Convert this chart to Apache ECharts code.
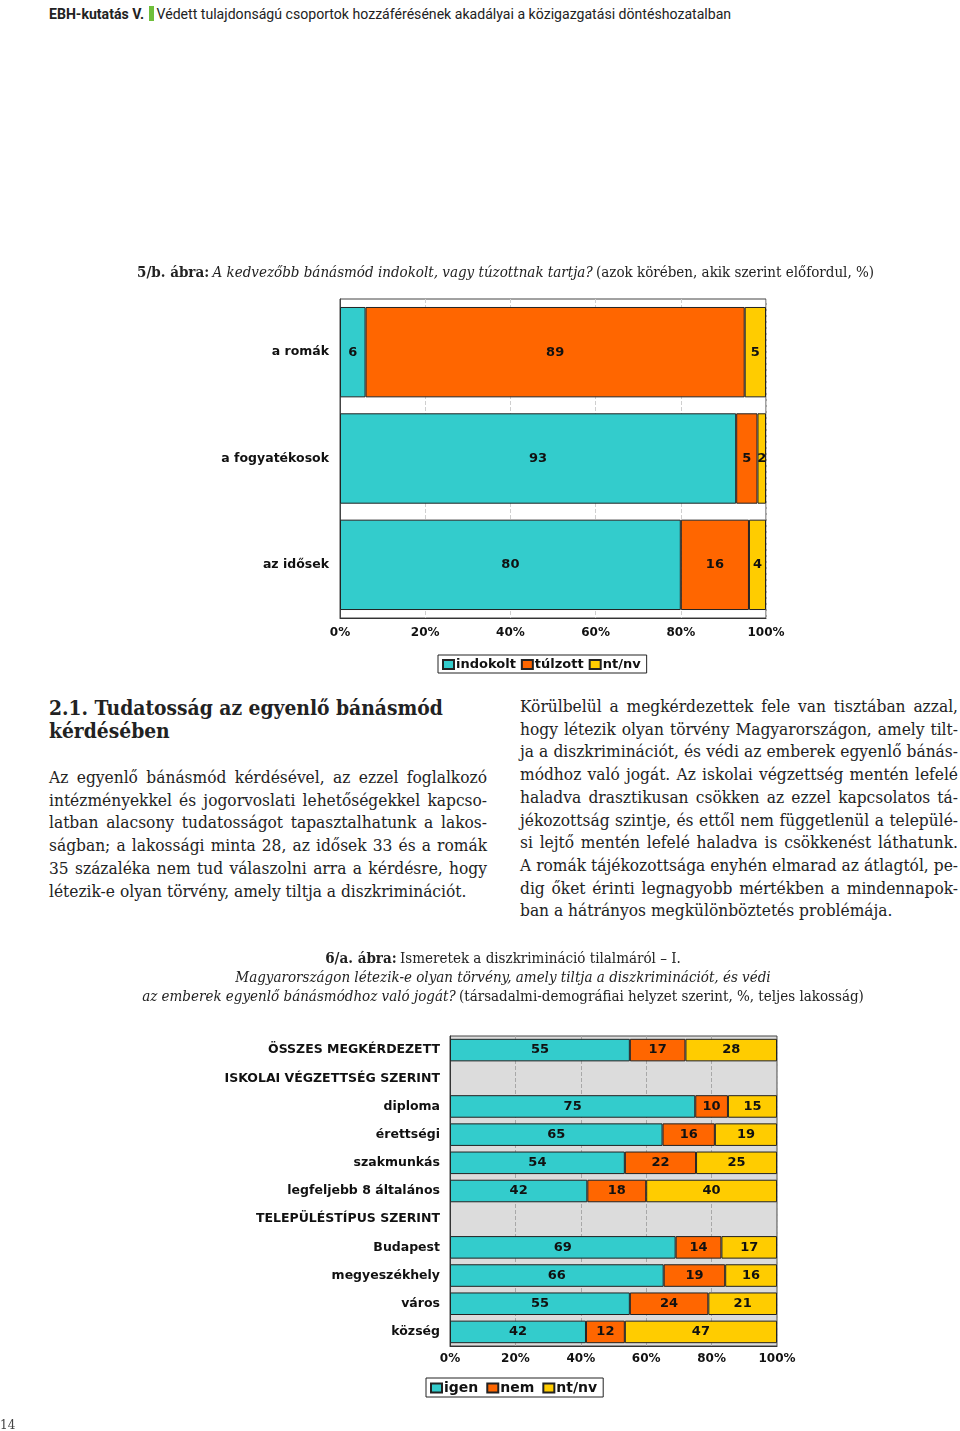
<!DOCTYPE html>
<html><head><meta charset="utf-8">
<script src="https://cdn.jsdelivr.net/npm/echarts@6/dist/echarts.min.js"></script>
<style>
html,body{margin:0;padding:0;background:#fff;}
body{width:960px;height:1431px;position:relative;overflow:hidden;}
.hdr{position:absolute;left:49px;top:5px;font-family:"Liberation Sans Narrow","Roboto",sans-serif;font-size:14.1px;color:#222;white-space:nowrap;line-height:18px;}
.gbar{display:inline-block;width:5px;height:15px;background:#6fbf3a;vertical-align:-2px;margin:0 3px 0 1px;}
.col{position:absolute;font-family:"DejaVu Serif Condensed","DejaVu Serif",serif;font-size:17.2px;line-height:22.7px;color:#222;}
.col div{text-align:justify;text-align-last:justify;white-space:nowrap;}
.col div.last{text-align:left;text-align-last:left;}
.h2{position:absolute;left:49px;top:696px;font-family:"DejaVu Serif Condensed","DejaVu Serif",serif;font-weight:bold;font-size:20.8px;line-height:23px;color:#222;}
.pg{position:absolute;left:0;top:1418px;font-family:"DejaVu Serif",serif;font-size:12px;color:#444;}
#c1{position:absolute;left:0;top:240px;width:960px;height:450px;}
#c2{position:absolute;left:0;top:940px;width:960px;height:480px;}
</style></head>
<body>
<div class="hdr"><b>EBH-kutatás V.</b> <span class="gbar"></span>Védett tulajdonságú csoportok hozzáférésének akadályai a közigazgatási döntéshozatalban</div>
<div id="c1"></div>
<div class="h2">2.1. Tudatosság az egyenlő bánásmód<br>kérdésében</div>
<div class="col" style="left:49px;top:766px;width:438px;">
<div>Az egyenlő bánásmód kérdésével, az ezzel foglalkozó</div>
<div>intézményekkel és jogorvoslati lehetőségekkel kapcso-</div>
<div>latban alacsony tudatosságot tapasztalhatunk a lakos-</div>
<div>ságban; a lakossági minta 28, az idősek 33 és a romák</div>
<div>35 százaléka nem tud válaszolni arra a kérdésre, hogy</div>
<div class="last">létezik-e olyan törvény, amely tiltja a diszkriminációt.</div>
</div>
<div class="col" style="left:520px;top:695px;width:438px;">
<div>Körülbelül a megkérdezettek fele van tisztában azzal,</div>
<div>hogy létezik olyan törvény Magyarországon, amely tilt-</div>
<div>ja a diszkriminációt, és védi az emberek egyenlő bánás-</div>
<div>módhoz való jogát. Az iskolai végzettség mentén lefelé</div>
<div>haladva drasztikusan csökken az ezzel kapcsolatos tá-</div>
<div>jékozottság szintje, és ettől nem függetlenül a települé-</div>
<div>si lejtő mentén lefelé haladva is csökkenést láthatunk.</div>
<div>A romák tájékozottsága enyhén elmarad az átlagtól, pe-</div>
<div>dig őket érinti legnagyobb mértékben a mindennapok-</div>
<div class="last">ban a hátrányos megkülönböztetés problémája.</div>
</div>
<div id="c2"></div>
<div class="pg">14</div>
<script>
// ---- data: chart 5/b ----
const cats1 = ['a romák', 'a fogyatékosok', 'az idősek'];
const indokolt = [6, 93, 80];
const tulzott = [89, 5, 16];
const ntnv1 = [5, 2, 4];
// ---- data: chart 6/a ----
const cats2 = ['ÖSSZES MEGKÉRDEZETT', 'ISKOLAI VÉGZETTSÉG SZERINT', 'diploma', 'érettségi', 'szakmunkás', 'legfeljebb 8 általános', 'TELEPÜLÉSTÍPUS SZERINT', 'Budapest', 'megyeszékhely', 'város', 'község'];
const igen = [55, null, 75, 65, 54, 42, null, 69, 66, 55, 42];
const nem = [17, null, 10, 16, 22, 18, null, 14, 19, 24, 12];
const ntnv2 = [28, null, 15, 19, 25, 40, null, 17, 16, 21, 47];
const tickLabels = ['0%', '20%', '40%', '60%', '80%', '100%'];

const SANS = '"DejaVu Sans", Verdana, sans-serif';
const SERIF = '"DejaVu Serif Condensed", "DejaVu Serif", serif';
const COLORS = ['#33cccc', '#ff6600', '#ffcc00'];

function pct(arrs) {
  // 100% stacked: normalise each row, keep raw value for label
  return arrs.map((a) => a.map((v, i) => {
    if (v == null) return { value: null, raw: null };
    const s = arrs.reduce((t, b) => t + (b[i] || 0), 0);
    return { value: v / s * 100, raw: v };
  }));
}

function mkSeries(names, arrs, gap) {
  const norm = pct(arrs);
  return names.map((n, k) => ({
    name: n, type: 'bar', stack: 'all', barCategoryGap: gap,
    data: norm[k],
    itemStyle: { color: COLORS[k], borderColor: '#222', borderWidth: 1 },
    label: { show: true, position: 'inside', fontFamily: SANS, fontWeight: 'bold', fontSize: 13, color: '#111',
      formatter: (p) => p.data.raw == null ? '' : String(p.data.raw) },
    emphasis: { disabled: true }
  }));
}

function xAx(splitColor, margin) {
  return {
    type: 'value', min: 0, max: 100, interval: 20,
    axisLabel: { formatter: (v) => tickLabels[Math.round(v / 20)], fontFamily: SANS, fontWeight: 'bold', fontSize: 12, color: '#111', margin: margin },
    axisLine: { show: true, lineStyle: { color: '#333' } },
    axisTick: { show: false },
    splitLine: { show: true, lineStyle: { type: 'dashed', color: splitColor } }
  };
}

function legend(left, top, fs, gap) {
  return {
    left: left, top: top, orient: 'horizontal', icon: 'rect', itemWidth: 11, itemHeight: 9, itemGap: gap,
    borderColor: '#222', borderWidth: 1, padding: [3, 6, 2, 4], selectedMode: false,
    textStyle: { fontFamily: SANS, fontWeight: 'bold', fontSize: fs, color: '#111', padding: [0, 0, 0, -3] }
  };
}

const c1 = echarts.init(document.getElementById('c1'), null, { renderer: 'canvas' });
c1.setOption({
  animation: false,
  graphic: [{
    type: 'text', left: 137, top: 26,
    style: {
      text: '{b|5/b. ábra:} {i|A kedvezőbb bánásmód indokolt, vagy túzottnak tartja?} {n|(azok körében, akik szerint előfordul, %)}',
      rich: {
        b: { fontFamily: SERIF, fontWeight: 'bold', fontSize: 15, fill: '#222' },
        i: { fontFamily: SERIF, fontStyle: 'italic', fontSize: 15, fill: '#222' },
        n: { fontFamily: SERIF, fontSize: 15, fill: '#222' }
      }
    }
  }],
  grid: { left: 340, width: 426, top: 59, height: 319, show: true, borderColor: '#444', borderWidth: 1, backgroundColor: '#fff' },
  legend: Object.assign(legend(438, 415, 13, 5), { data: ['indokolt', 'túlzott', 'nt/nv'] }),
  xAxis: xAx('#cfcfcf', 9),
  yAxis: {
    type: 'category', data: cats1, inverse: true,
    axisLine: { show: true, lineStyle: { color: '#444' } }, axisTick: { show: false },
    axisLabel: { fontFamily: SANS, fontWeight: 'bold', fontSize: 12.5, color: '#111', margin: 11 }
  },
  series: mkSeries(['indokolt', 'túlzott', 'nt/nv'], [indokolt, tulzott, ntnv1], '15%')
});

const c2 = echarts.init(document.getElementById('c2'), null, { renderer: 'canvas' });
c2.setOption({
  animation: false,
  graphic: [{
    type: 'text', x: 503, y: 10,
    style: {
      text: '{b|6/a. ábra:} {n|Ismeretek a diszkrimináció tilalmáról – I.}\n{i|Magyarországon létezik-e olyan törvény, amely tiltja a diszkriminációt, és védi}\n{i|az emberek egyenlő bánásmódhoz való jogát?} {n|(társadalmi-demográfiai helyzet szerint, %, teljes lakosság)}',
      align: 'center',
      rich: {
        b: { fontFamily: SERIF, fontWeight: 'bold', fontSize: 15, fill: '#222', lineHeight: 19 },
        i: { fontFamily: SERIF, fontStyle: 'italic', fontSize: 15, fill: '#222', lineHeight: 19 },
        n: { fontFamily: SERIF, fontSize: 15, fill: '#222', lineHeight: 19 }
      }
    }
  }],
  grid: { left: 450, width: 327, top: 96, height: 310, show: true, borderColor: '#444', borderWidth: 1, backgroundColor: '#dcdcdc' },
  legend: Object.assign(legend(426, 438, 14, 8), { data: ['igen', 'nem', 'nt/nv'] }),
  xAxis: xAx('#a8a8a8', 7),
  yAxis: {
    type: 'category', data: cats2, inverse: true,
    axisLine: { show: true, lineStyle: { color: '#333' } }, axisTick: { show: false },
    axisLabel: { fontFamily: SANS, fontWeight: 'bold', fontSize: 12.5, color: '#111', margin: 10 }
  },
  series: mkSeries(['igen', 'nem', 'nt/nv'], [igen, nem, ntnv2], '20%')
});
</script>
</body></html>
